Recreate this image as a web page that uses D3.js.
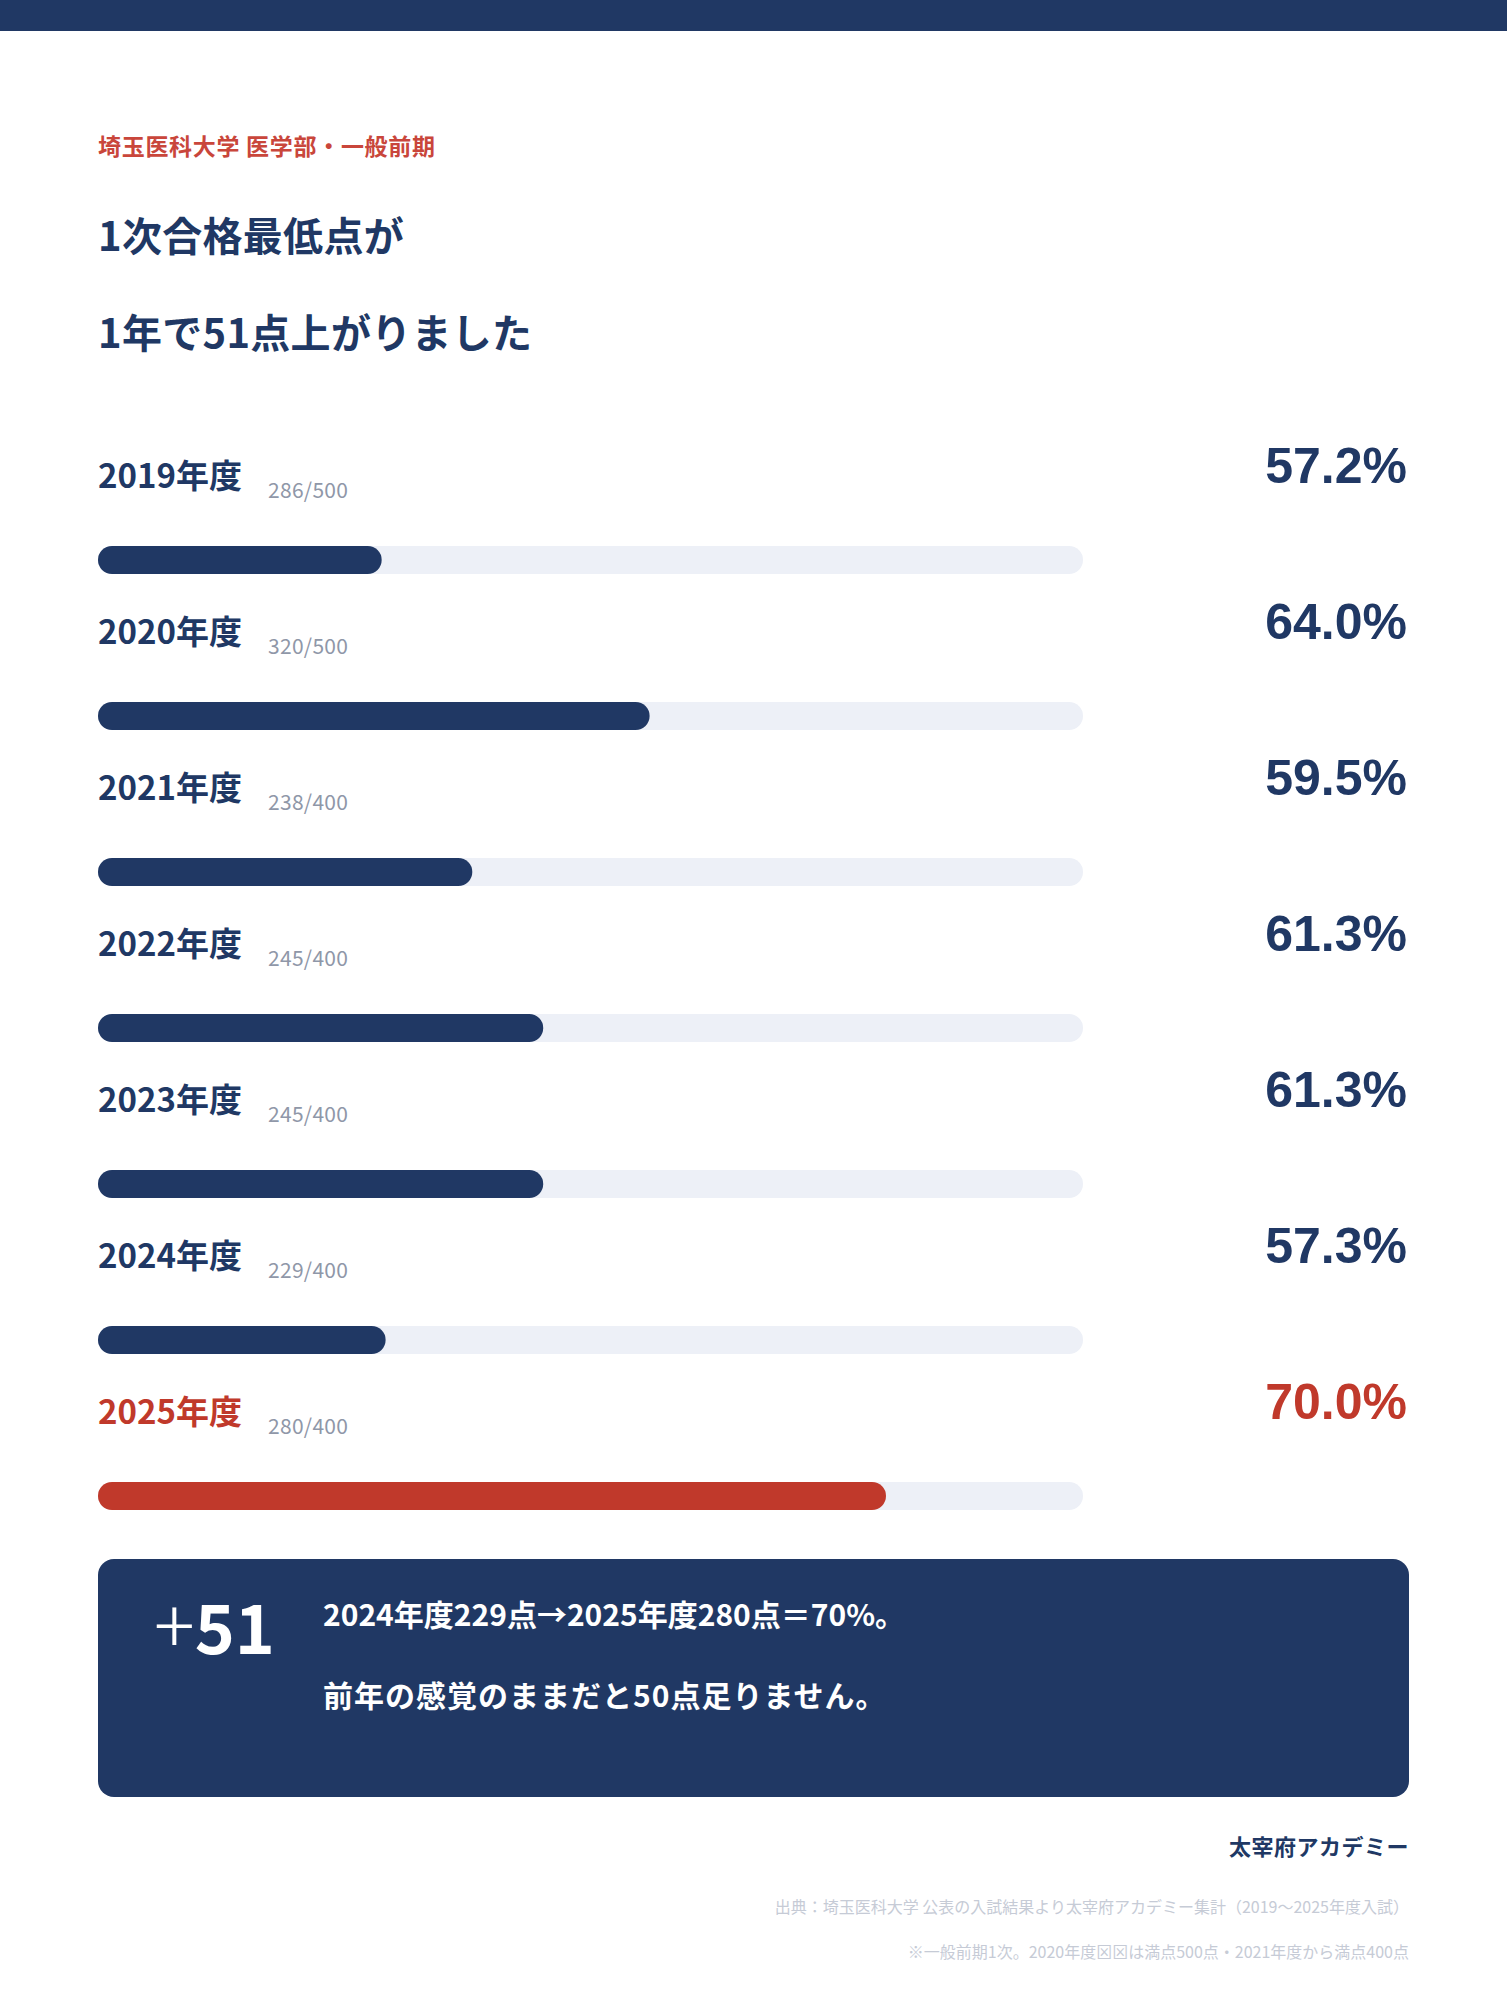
<!DOCTYPE html>
<html>
<head>
<meta charset="utf-8">
<script src="https://cdn.jsdelivr.net/npm/d3@7/dist/d3.min.js"></script>
<style>
  html, body { margin: 0; padding: 0; background: #ffffff; }
  svg { display: block; }
</style>
</head>
<body>
<div id="chart"></div>
<script>
// data
var years = ['2019年度', '2020年度', '2021年度', '2022年度', '2023年度', '2024年度', '2025年度'];
var scores = [286, 320, 238, 245, 245, 229, 280];
var maxScores = [500, 500, 400, 400, 400, 400, 400];
var rates = [57.2, 64.0, 59.5, 61.3, 61.3, 57.3, 70.0];
var rateDomain = [50, 75];

var navy = '#203864';
var red = '#c0392b';

var width = 1507, height = 2000;
var jp = '"Noto Sans CJK JP", "Noto Sans", sans-serif';

var svg = d3.select('#chart').append('svg')
    .attr('width', width)
    .attr('height', height);

// top band
svg.append('rect')
    .attr('x', 0).attr('y', 0)
    .attr('width', width).attr('height', 31)
    .attr('fill', navy);

svg.append('text')
    .attr('x', 98).attr('y', 155)
    .attr('font-family', jp).attr('font-size', 23).attr('font-weight', 700)
    .attr('letter-spacing', 0.7)
    .attr('fill', '#c9463b')
    .text('埼玉医科大学 医学部・一般前期');

svg.selectAll('text.title')
    .data(['1次合格最低点が', '1年で51点上がりました'])
    .enter().append('text')
    .attr('class', 'title')
    .attr('x', 98)
    .attr('y', function (d, i) { return 251 + i * 97; })
    .attr('font-family', jp).attr('font-size', 40).attr('font-weight', 700)
    .attr('letter-spacing', 0.3)
    .attr('fill', navy)
    .text(function (d) { return d; });

// rows
var x = d3.scaleLinear().domain(rateDomain).range([98, 1083]);
var rowY = d3.scaleLinear().domain([0, 1]).range([0, 156]);
var barH = 28;

var rows = svg.selectAll('g.row')
    .data(years)
    .enter().append('g')
    .attr('class', 'row')
    .attr('transform', function (d, i) { return 'translate(0,' + rowY(i) + ')'; });

function colorOf(i) { return i === years.length - 1 ? red : navy; }

rows.append('text')
    .attr('x', 98).attr('y', 488)
    .attr('font-family', jp).attr('font-size', 33).attr('font-weight', 700)
    .attr('fill', function (d, i) { return colorOf(i); })
    .text(function (d) { return d; });

rows.append('text')
    .attr('x', 268).attr('y', 498)
    .attr('font-family', jp).attr('font-size', 21)
    .attr('letter-spacing', 0.3)
    .attr('fill', '#8f97a8')
    .text(function (d, i) { return scores[i] + '/' + maxScores[i]; });

rows.append('text')
    .attr('x', 1407).attr('y', 483)
    .attr('text-anchor', 'end')
    .attr('font-family', '"Liberation Sans", Arial, sans-serif')
    .attr('font-size', 50).attr('font-weight', 700)
    .attr('fill', function (d, i) { return colorOf(i); })
    .text(function (d, i) { return rates[i].toFixed(1) + '%'; });

rows.append('rect')
    .attr('x', x(rateDomain[0])).attr('y', 546)
    .attr('width', x(rateDomain[1]) - x(rateDomain[0]))
    .attr('height', barH)
    .attr('rx', barH / 2)
    .attr('fill', '#edf0f7');

rows.append('rect')
    .attr('x', x(rateDomain[0])).attr('y', 546)
    .attr('width', function (d, i) { return x(rates[i]) - x(rateDomain[0]); })
    .attr('height', barH)
    .attr('rx', barH / 2)
    .attr('fill', function (d, i) { return colorOf(i); });

// summary box
svg.append('rect')
    .attr('x', 98).attr('y', 1559)
    .attr('width', 1311).attr('height', 238)
    .attr('rx', 16)
    .attr('fill', navy);

var big = svg.append('text')
    .attr('x', 154).attr('y', 1654)
    .attr('font-family', jp).attr('font-size', 68)
    .attr('fill', '#ffffff');
big.append('tspan').attr('font-weight', 300).attr('font-size', 76).text('+');
big.append('tspan').attr('font-weight', 700).text('51');

svg.selectAll('text.note')
    .data(['2024年度229点→2025年度280点＝70%。', '前年の感覚のままだと50点足りません。'])
    .enter().append('text')
    .attr('class', 'note')
    .attr('x', 323)
    .attr('y', function (d, i) { return 1626 + i * 81; })
    .attr('font-family', jp).attr('font-size', 30).attr('font-weight', 700)
    .attr('letter-spacing', function (d, i) { return i === 1 ? 1 : 0; })
    .attr('fill', '#ffffff')
    .text(function (d) { return d; });

// footer
svg.append('text')
    .attr('x', 1409).attr('y', 1855)
    .attr('text-anchor', 'end')
    .attr('font-family', jp).attr('font-size', 22).attr('font-weight', 700)
    .attr('letter-spacing', 0.5)
    .attr('fill', navy)
    .text('太宰府アカデミー');

svg.selectAll('text.src')
    .data(['出典：埼玉医科大学 公表の入試結果より太宰府アカデミー集計（2019〜2025年度入試）',
           '※一般前期1次。2020年度⊠⊠は満点500点・2021年度から満点400点'])
    .enter().append('text')
    .attr('class', 'src')
    .attr('x', 1409)
    .attr('y', function (d, i) { return 1913 + i * 45; })
    .attr('text-anchor', 'end')
    .attr('font-family', jp).attr('font-size', 16)
    .attr('fill', '#c6cbd6')
    .text(function (d) { return d; });
</script>
</body>
</html>
